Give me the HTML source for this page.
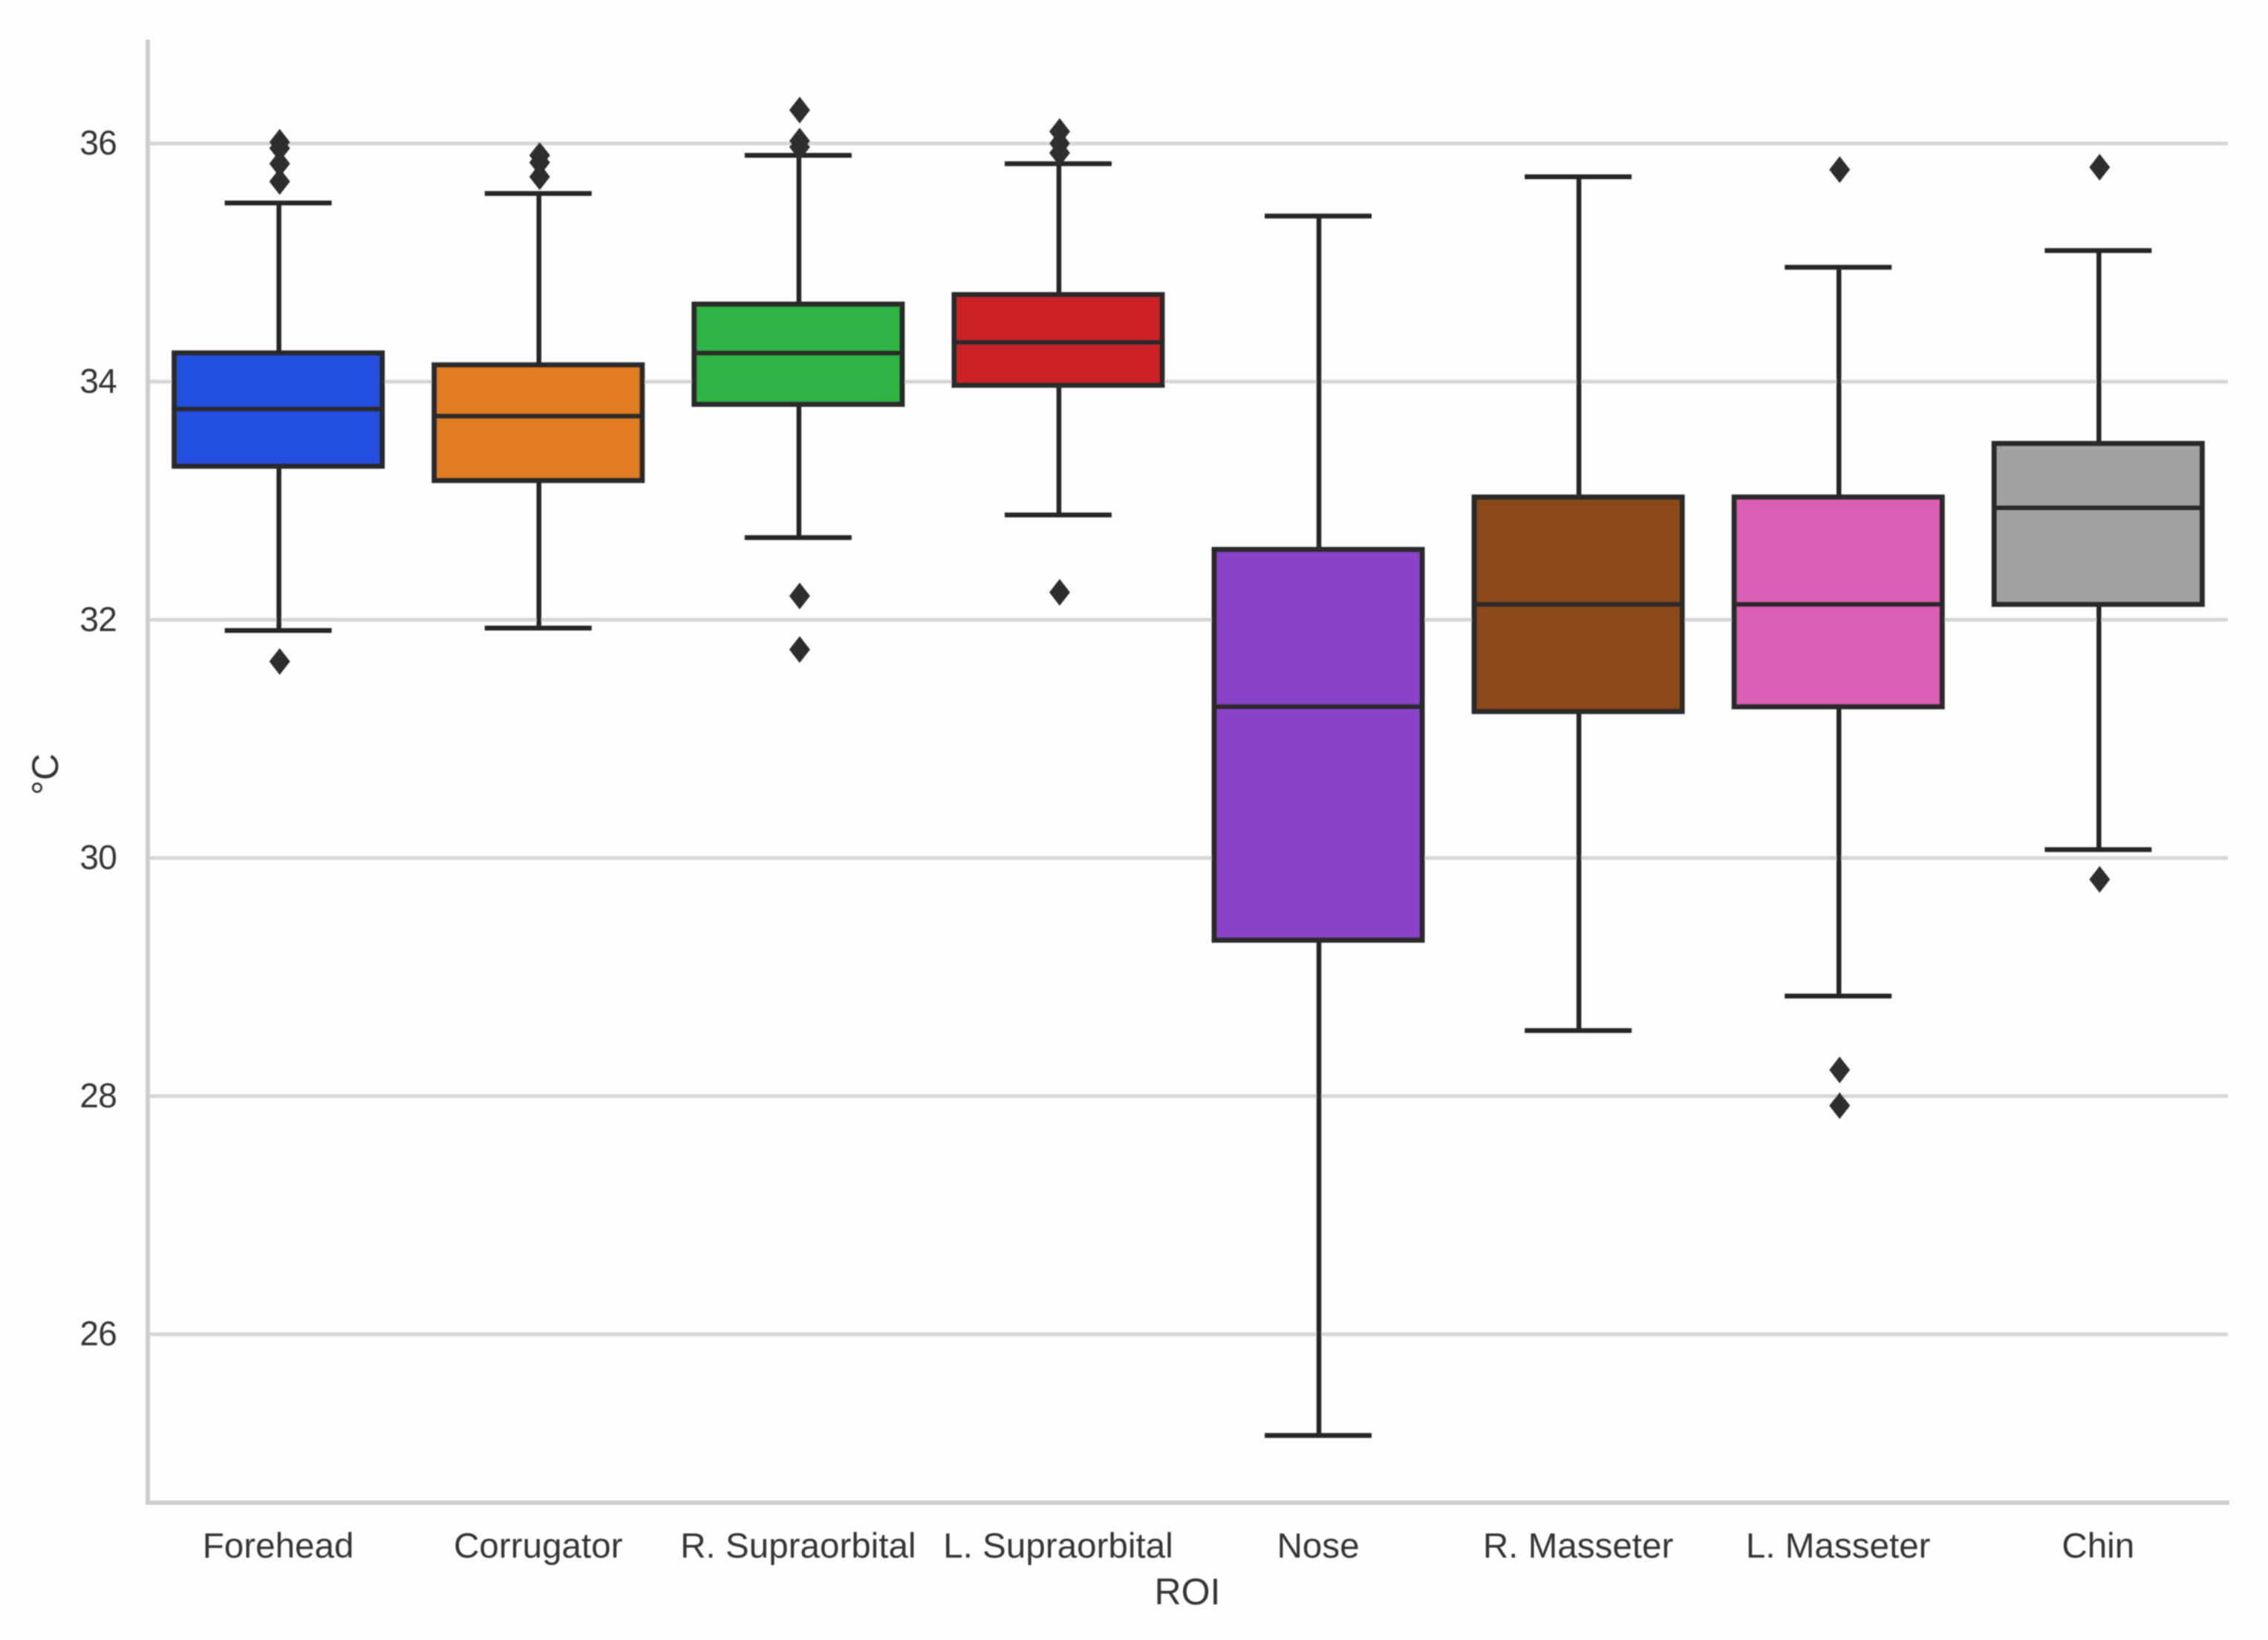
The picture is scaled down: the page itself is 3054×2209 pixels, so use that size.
<!DOCTYPE html>
<html lang="en">
<head>
<meta charset="utf-8">
<title>Box plot of ROI temperatures</title>
<style>
html,body{margin:0;padding:0;background:#fff;}
svg{display:block;}
text{font-family:"Liberation Sans",sans-serif;fill:#363636;filter:url(#softtext);}
</style>
</head>
<body>
<svg id="chart" xmlns="http://www.w3.org/2000/svg" width="3054" height="2209" viewBox="0 0 3054 2209">
  <defs>
    <filter id="soft" x="-2%" y="-2%" width="104%" height="104%"><feGaussianBlur stdDeviation="0.8"/></filter>
    <filter id="softtext" x="-10%" y="-20%" width="120%" height="140%"><feGaussianBlur stdDeviation="0.7"/></filter>
  </defs>
  <rect x="0" y="0" width="3054" height="2209" fill="#fefefe"/>
  <g id="plot" filter="url(#soft)"></g>
</svg>
<script>
const categories = ["Forehead","Corrugator","R. Supraorbital","L. Supraorbital","Nose","R. Masseter","L. Masseter","Chin"];
const whiskerHigh = [35.50,35.58,35.90,35.83,35.39,35.72,34.96,35.10];
const quartile3 = [34.24,34.14,34.65,34.73,32.59,33.03,33.03,33.48];
const medians = [33.77,33.71,34.24,34.33,31.27,32.13,32.13,32.94];
const quartile1 = [33.29,33.17,33.81,33.97,29.31,31.23,31.27,32.13];
const whiskerLow = [31.91,31.93,32.69,32.88,25.15,28.55,28.84,30.07];
const outliers = [
  [36.01,35.96,35.83,35.68,31.65],
  [35.90,35.84,35.72],
  [36.28,36.02,35.97,32.20,31.75],
  [36.10,36.00,35.92,32.23],
  [],
  [],
  [35.78,28.22,27.92],
  [35.80,29.82]
];
const boxColors = ["#2350e0","#e07b20","#2eb345","#cc2027","#8b43c8","#8a4a13","#dd5fb5","#a2a2a2"];
const yTicks = [26,28,30,32,34,36];
const yTickLabels = ["26","28","30","32","34","36"];

const NS = "http://www.w3.org/2000/svg";
const plot = document.getElementById("plot");
const svg = document.getElementById("chart");
const AX_LEFT = 199, AX_RIGHT = 3000, AX_TOP = 53, AX_BOTTOM = 2024;
function yScale(v){ return 193.2 + (36 - v) * 160.4; }
function xScale(i){ return 374.6 + i * 350.1; }
function make(tag, attrs, parent){
  const el = document.createElementNS(NS, tag);
  for (const k in attrs) el.setAttribute(k, attrs[k]);
  (parent || plot).appendChild(el);
  return el;
}
const INK = "#262626";

yTicks.forEach(function(t, i){
  const grid = make("line", {x1:AX_LEFT, x2:AX_RIGHT, y1:yScale(t), y2:yScale(t), stroke:"#d6d6d6", "stroke-width":5});
  
  
  const lab = make("text", {x:157, y:yScale(t)+15, "text-anchor":"end", "font-size":46, "letter-spacing":"-0.8"}, svg);
  lab.textContent = yTickLabels[i];
  
  
});

const spineLeft = make("line", {x1:AX_LEFT, x2:AX_LEFT, y1:AX_TOP, y2:AX_BOTTOM+3, stroke:"#cfcfcf", "stroke-width":6});


const spineBottom = make("line", {x1:AX_LEFT-3, x2:AX_RIGHT+2, y1:AX_BOTTOM, y2:AX_BOTTOM, stroke:"#cfcfcf", "stroke-width":6});



categories.forEach(function(name, i){
  const cx = xScale(i), wx = cx + 1, fx = cx + 2;
  const group = make("g", {});
  
  
  const wU = make("line", {x1:wx, x2:wx, y1:yScale(quartile3[i]), y2:yScale(whiskerHigh[i]), stroke:INK, "stroke-width":6.5}, group);
  
  
  const wL = make("line", {x1:wx, x2:wx, y1:yScale(quartile1[i]), y2:yScale(whiskerLow[i]), stroke:INK, "stroke-width":6.5}, group);
  
  
  const cU = make("line", {x1:cx-72, x2:cx+72, y1:yScale(whiskerHigh[i]), y2:yScale(whiskerHigh[i]), stroke:INK, "stroke-width":6.5}, group);
  
  
  const cL = make("line", {x1:cx-72, x2:cx+72, y1:yScale(whiskerLow[i]), y2:yScale(whiskerLow[i]), stroke:INK, "stroke-width":6.5}, group);
  
  
  const box = make("rect", {x:cx-140, y:yScale(quartile3[i]), width:280, height:yScale(quartile1[i])-yScale(quartile3[i]), fill:boxColors[i], stroke:"#2b2b2b", "stroke-width":7}, group);
  
  
  const med = make("line", {x1:cx-140, x2:cx+140, y1:yScale(medians[i]), y2:yScale(medians[i]), stroke:"#2b2b2b", "stroke-width":6.5}, group);
  
  
  outliers[i].forEach(function(v){
    const y = yScale(v);
    const pts = fx+","+(y-18)+" "+(fx+14)+","+y+" "+fx+","+(y+18)+" "+(fx-14)+","+y;
    const d = make("polygon", {points:pts, fill:"#2f2f2f"}, group);
    
    
  });
  const lab = make("text", {x:cx, y:2098, "text-anchor":"middle", "font-size":47.6}, svg);
  lab.textContent = name;
  
  
});

const xTitle = make("text", {x:1599, y:2161, "text-anchor":"middle", "font-size":50}, svg);
xTitle.textContent = "ROI";


const yTitle = make("text", {x:0, y:0, "text-anchor":"middle", "font-size":50, transform:"translate(78,1043) rotate(-90)"}, svg);
yTitle.textContent = "°C";


</script>
</body>
</html>
